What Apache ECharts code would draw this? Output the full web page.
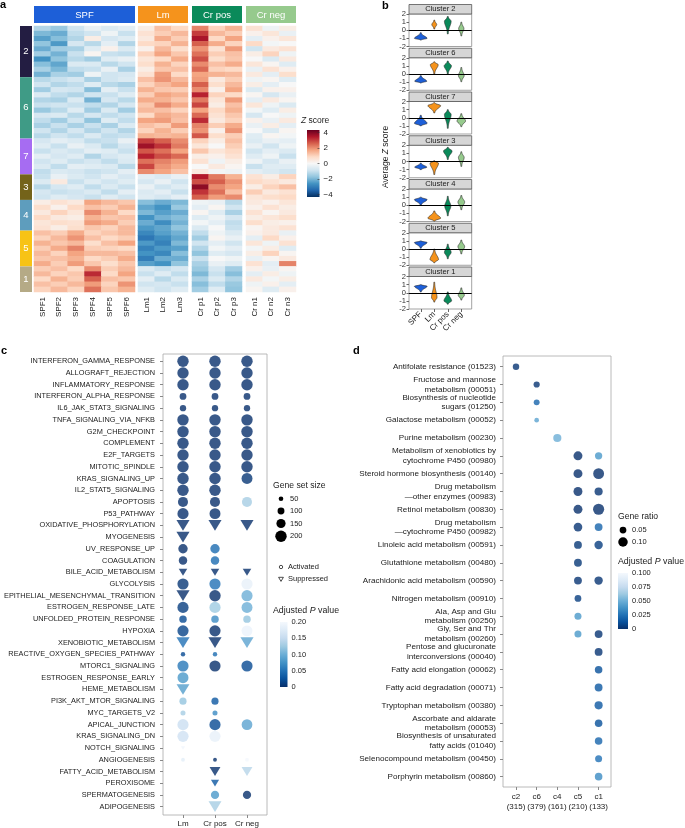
<!DOCTYPE html>
<html><head><meta charset="utf-8">
<script src="https://cdn.jsdelivr.net/npm/echarts@6/dist/echarts.min.js"></script>
<style>html,body{margin:0;padding:0;background:#fff}#chart{width:685px;height:828px}</style>
</head><body><div id="chart"></div>
<script>
// ================= DATA =================
// ---- panel a: heatmap (Z scores), columns SPF1-6, Lm1-3, Cr p1-3, Cr n1-3
const samplesSPF = ['SPF1','SPF2','SPF3','SPF4','SPF5','SPF6'];
const samplesLm = ['Lm1','Lm2','Lm3'];
const samplesCrPos = ['Cr p1','Cr p2','Cr p3'];
const samplesCrNeg = ['Cr n1','Cr n2','Cr n3'];
const heatGroupNames = ['SPF','Lm','Cr pos','Cr neg'];
const clusterIds = ['2','6','7','3','4','5','1'];

const zCluster2 = [
[-1.2,-1.5,-0.8,-0.3,-0.6,-0.4, 0.3,1.2,0.8, 2.0,0.9,1.4, 0.6,-0.2,0.3],
[-1.8,-2.0,-1.0,-0.8,-0.2,-0.9, 0.6,1.0,1.3, 2.8,1.3,1.0, 0.2,0.5,-0.3],
[-2.2,-1.7,-1.2,0.3,-0.7,-0.5, 0.4,1.5,1.0, 3.3,0.8,1.6, -0.4,0.2,0.5],
[-1.6,-2.3,-0.7,-1.1,-0.4,-1.2, 0.8,0.9,1.4, 2.4,1.5,0.9, 0.8,-0.1,0.0],
[-2.0,-1.4,-1.3,-0.5,0.2,-0.6, 0.2,1.3,0.7, 1.8,0.6,1.7, -0.8,0.4,0.6],
[-1.4,-1.9,-0.9,0.1,-0.9,-1.0, 0.9,1.6,1.1, 2.2,1.0,1.2, 0.3,0.9,-0.2],
[-2.4,-1.6,-1.1,-1.4,-0.5,-0.3, 0.5,0.8,1.5, 2.6,0.7,1.1, 0.0,-0.6,0.4],
[-1.7,-2.1,-0.6,-0.6,-1.1,-0.8, 0.7,1.4,0.9, 1.9,1.2,1.5, 0.5,0.1,-0.5],
[-1.3,-1.8,-1.0,-0.9,-0.3,-1.3, 0.3,1.1,1.2, 2.3,0.9,0.8, -0.3,0.6,0.2],
[-1.9,-1.3,-1.4,-0.2,-0.8,-0.7, 0.6,1.7,0.8, 1.6,1.4,1.3, 0.4,-0.4,0.7]
];
const zCluster6 = [
[-1.1,-0.9,-0.7,-1.3,-0.8,-0.6, 1.2,1.8,1.3, 1.7,0.4,1.0, -0.2,0.1,-0.5],
[-0.8,-1.2,-1.0,-0.5,-1.1,-1.3, 0.9,1.3,1.6, 2.4,0.7,1.3, 0.3,-0.4,0.0],
[-1.4,-0.7,-0.8,-1.7,-0.4,-0.9, 1.4,1.1,1.0, 1.9,0.2,1.6, -0.6,0.2,0.2],
[-0.6,-1.0,-1.2,-0.8,-0.9,-0.5, 1.0,1.6,1.4, 3.1,0.9,0.8, 0.1,-0.7,-0.3],
[-1.2,-1.3,-0.6,-1.9,-0.7,-1.1, 1.5,1.4,1.1, 2.1,0.5,1.7, -0.4,0.4,0.1],
[-0.9,-0.8,-0.9,-1.0,-1.2,-0.7, 1.1,1.9,1.5, 2.7,0.3,1.2, 0.5,-0.2,-0.6],
[-1.5,-1.1,-0.5,-1.4,-0.6,-1.4, 1.3,1.2,0.9, 1.6,0.8,1.4, -0.1,-0.5,0.3],
[-0.7,-0.6,-1.1,-0.7,-1.0,-0.8, 0.8,1.5,1.3, 2.3,0.6,1.1, -0.7,0.0,-0.2],
[-1.0,-1.4,-0.8,-1.6,-0.5,-1.0, 1.6,1.7,1.2, 3.0,0.4,0.9, 0.2,-0.3,0.4],
[-1.3,-0.9,-1.3,-0.9,-1.3,-0.6, 1.2,1.0,1.7, 2.0,1.0,1.5, -0.3,0.3,-0.4],
[-0.8,-1.2,-0.7,-1.2,-0.8,-1.2, 0.9,1.4,1.0, 1.8,0.2,1.8, 0.0,-0.6,0.1],
[-1.1,-0.8,-1.0,-0.6,-1.0,-0.9, 1.4,1.3,1.4, 2.5,0.7,1.0, -0.5,0.1,-0.1]
];
const zCluster7 = [
[-0.7,-0.4,-0.6,-1.0,-0.9,-0.3, 2.8,2.4,1.9, 0.9,0.3,1.2, -0.6,-0.3,-0.4],
[-0.5,-0.9,-0.3,-0.6,-1.1,-0.7, 3.4,2.9,2.1, 0.5,0.0,1.0, -0.3,-0.8,-0.2],
[-0.9,-0.6,-0.8,-0.4,-0.5,-0.9, 2.5,2.2,1.6, 1.1,0.5,0.8, -0.8,-0.4,-0.6],
[-0.4,-0.7,-0.5,-1.2,-0.7,-0.5, 3.1,2.6,2.3, 0.3,0.2,0.6, -0.5,-0.2,-0.9],
[-0.8,-0.5,-0.9,-0.7,-1.0,-0.6, 2.2,2.0,1.7, 0.6,-0.2,0.3, -0.2,-0.7,-0.3],
[-0.6,-1.0,-0.4,-0.5,-0.6,-1.1, 2.7,1.8,1.5, 0.0,0.4,0.1, -0.9,-0.5,-0.5],
[-1.0,-0.6,-0.7,-0.9,-0.8,-0.4, 1.9,1.6,1.2, 0.4,-0.1,-0.2, -0.4,-0.6,-0.8]
];
const zCluster3 = [
[-0.9,-0.3,-0.6,-0.8,-0.4,-0.7, -0.4,-0.6,-0.3, 3.2,2.1,1.4, 0.6,0.3,0.9],
[-0.6,0.4,-0.9,-0.5,-0.8,-0.5, -0.7,-0.3,-0.8, 2.6,2.4,1.8, 0.8,0.6,0.4],
[-1.1,-0.7,-0.5,-1.0,-0.6,-0.9, -0.3,-0.8,-0.5, 3.6,1.9,1.6, 0.3,0.9,1.2],
[-0.7,-0.9,-0.8,-0.6,-1.0,-0.4, -0.6,-0.4,-0.9, 2.9,2.2,1.2, 1.0,0.4,0.6],
[-0.8,-0.5,-0.7,-0.9,-0.5,-0.8, -0.5,-0.7,-0.4, 2.4,1.7,1.9, 0.5,0.7,0.8]
];
const zCluster4 = [
[0.3,0.6,0.4,1.6,1.3,1.1, -1.7,-2.0,-1.8, -0.2,-0.3,-1.1, 0.4,0.2,0.5],
[0.7,0.2,0.8,1.2,1.0,1.4, -2.1,-2.4,-1.5, -0.4,0.1,-0.8, 0.2,0.6,0.3],
[0.4,0.9,0.5,1.9,1.4,0.8, -1.8,-2.2,-2.0, 0.1,-0.5,-1.3, 0.6,0.1,0.4],
[0.8,0.4,0.3,1.4,1.1,1.2, -2.4,-1.9,-1.7, -0.5,-0.2,-0.7, 0.3,0.5,0.7],
[0.5,0.7,0.6,1.7,1.5,1.0, -2.0,-2.5,-1.9, -0.1,-0.4,-1.0, 0.7,0.3,0.2],
[0.6,0.3,0.7,1.1,0.9,1.3, -2.3,-2.1,-1.6, -0.6,0.0,-0.9, 0.1,0.4,0.6]
];
const zCluster5 = [
[1.2,1.0,1.5,0.9,1.1,1.3, -2.6,-2.2,-1.9, -1.0,-0.2,-0.6, 0.2,0.4,-0.3],
[0.9,1.3,1.8,1.2,0.8,1.0, -2.9,-2.5,-2.1, -1.4,0.1,-0.3, -0.4,0.8,0.2],
[1.4,1.1,1.3,0.7,1.2,1.6, -2.3,-2.7,-1.8, -0.8,-0.4,-0.8, 0.5,-0.2,0.6],
[1.0,1.5,2.0,1.0,0.9,0.8, -2.7,-2.3,-2.2, -1.2,-0.1,-0.4, -0.1,0.3,-0.5],
[1.3,0.9,1.6,1.3,1.3,1.2, -2.4,-2.6,-1.7, -1.6,-0.5,-0.7, 0.3,0.9,0.1],
[1.1,1.2,1.4,0.8,1.0,1.5, -2.8,-2.0,-2.0, -0.9,0.0,-0.2, -0.3,0.1,0.4],
[1.5,1.0,1.7,1.1,0.7,1.1, -2.2,-2.4,-1.6, -1.3,-0.3,-0.5, 0.6,-0.4,2.0]
];
const zCluster1 = [
[1.0,1.2,0.8,1.9,1.0,1.3, -0.6,-0.9,-0.7, -1.5,-0.7,-1.4, 0.2,-0.3,0.1],
[1.3,0.9,1.1,3.0,0.8,1.6, -0.9,-0.5,-1.0, -1.8,-0.9,-1.7, -0.4,0.3,-0.2],
[0.8,1.4,1.0,2.4,1.2,1.1, -0.4,-1.1,-0.6, -1.3,-0.6,-1.2, 0.4,-0.1,0.3],
[1.2,1.0,1.3,1.7,0.9,1.8, -0.8,-0.7,-0.9, -1.7,-1.0,-1.5, -0.2,0.2,-0.4],
[0.9,1.3,0.9,2.2,1.1,1.4, -0.5,-0.8,-0.5, -1.4,-0.5,-1.6, 0.1,-0.5,0.2]
];
const zTicks = [-4,-2,0,2,4];

// ---- panel b: violins per cluster: [min, max, mode, relative width] for SPF, Lm, Cr pos, Cr neg
const violinGroups = ['SPF','Lm','Cr pos','Cr neg'];
const violinClusters = ['Cluster 2','Cluster 6','Cluster 7','Cluster 3','Cluster 4','Cluster 5','Cluster 1'];
const violinC2 = [[-1.2,-0.3,-1.0,1.0],[0.15,1.25,0.7,0.35],[-0.45,1.7,1.1,0.5],[-0.7,1.0,0.2,0.38]];
const violinC6 = [[-1.1,-0.2,-0.9,0.95],[0.0,1.5,1.15,0.6],[0.0,1.6,1.0,0.55],[-0.95,0.8,-0.2,0.42]];
const violinC7 = [[-1.0,0.3,-0.7,1.0],[0.6,1.85,1.5,1.0],[-1.3,1.0,0.4,0.5],[-1.1,0.5,-0.4,0.65]];
const violinC3 = [[-1.0,-0.2,-0.7,0.95],[-1.6,0.1,-0.2,0.65],[0.25,1.75,1.3,0.66],[-0.6,1.2,0.5,0.42]];
const violinC4 = [[0.0,1.0,0.7,1.0],[-1.95,-0.7,-1.6,1.0],[-1.3,1.1,-0.1,0.45],[-0.55,1.2,0.4,0.5]];
const violinC5 = [[0.1,1.0,0.8,1.0],[-1.7,0.0,-1.3,0.65],[-1.2,0.6,-0.4,0.5],[-0.6,1.1,0.3,0.5]];
const violinC1 = [[0.1,1.0,0.8,1.0],[-1.15,1.3,-0.6,0.4],[-1.4,0.1,-1.0,0.58],[-0.9,0.6,-0.3,0.45]];

// ---- panel c: hallmark GSEA
const cConditions = ['Lm','Cr pos','Cr neg'];
const cPathways = ['INTERFERON_GAMMA_RESPONSE','ALLOGRAFT_REJECTION','INFLAMMATORY_RESPONSE','INTERFERON_ALPHA_RESPONSE',
'IL6_JAK_STAT3_SIGNALING','TNFA_SIGNALING_VIA_NFKB','G2M_CHECKPOINT','COMPLEMENT','E2F_TARGETS','MITOTIC_SPINDLE',
'KRAS_SIGNALING_UP','IL2_STAT5_SIGNALING','APOPTOSIS','P53_PATHWAY','OXIDATIVE_PHOSPHORYLATION','MYOGENESIS',
'UV_RESPONSE_UP','COAGULATION','BILE_ACID_METABOLISM','GLYCOLYSIS','EPITHELIAL_MESENCHYMAL_TRANSITION',
'ESTROGEN_RESPONSE_LATE','UNFOLDED_PROTEIN_RESPONSE','HYPOXIA','XENOBIOTIC_METABOLISM','REACTIVE_OXYGEN_SPECIES_PATHWAY',
'MTORC1_SIGNALING','ESTROGEN_RESPONSE_EARLY','HEME_METABOLISM','PI3K_AKT_MTOR_SIGNALING','MYC_TARGETS_V2',
'APICAL_JUNCTION','KRAS_SIGNALING_DN','NOTCH_SIGNALING','ANGIOGENESIS','FATTY_ACID_METABOLISM','PEROXISOME',
'SPERMATOGENESIS','ADIPOGENESIS'];
const cGeneSetSize = [
[200,200,200],[200,200,200],[200,200,200],[97,97,97],[87,87,87],[200,200,200],[200,200,200],[200,200,200],
[200,200,200],[200,200,200],[200,200,190],[200,200,null],[170,170,170],[195,190,null],[200,200,200],[200,null,null],
[155,155,null],[135,135,null],[112,112,112],[195,195,195],[200,200,195],[195,195,190],[112,112,112],[195,195,190],
[200,200,200],[45,45,null],[195,195,195],[190,null,null],[195,null,null],[105,105,null],[58,58,null],
[195,195,185],[195,195,null],[30,null,null],[32,32,32],[null,158,158],[null,104,null],[null,130,130],[null,195,null]];
const cPadj = [
[0,0,0],[0,0,0],[0,0,0],[0,0,0],[0,0,0],[0,0,0],[0,0,0],[0,0,0],
[0,0,0],[0,0,0],[0,0,0.005],[0,0,null],[0,0,0.13],[0,0,null],[0,0,0],[0,null,null],
[0,0.045,null],[0,0.045,null],[0,0,0],[0.005,0.05,0.185],[0,0,0.1],[0.01,0.125,0.1],[0.02,0.07,0.12],[0.015,0,0.19],
[0.05,0,0.09],[0.02,0.045,null],[0.055,0,0.02],[0.08,null,null],[0.085,null,null],[0.12,0.03,null],[0.13,0.07,null],
[0.155,0.02,0.09],[0.16,0.185,null],[0.195,null,null],[0.18,0,0.2],[null,0,0.14],[null,0.03,null],[null,0.08,0],[null,0.13,null]];
// A = activated, S = suppressed
const cDirection = ['AAA','AAA','AAA','AAA','AAA','AAA','AAA','AAA','AAA','AAA','AAA','AA-','AAA','AA-','SSS','S--',
'AA-','AA-','SSS','AAA','SAA','AAA','AAA','AAA','SSS','AA-','AAA','A--','S--','AA-','AA-','AAA','AA-','S--','AAA',
'-SS','-S-','-AA','-S-'];
const cSizeLegend = [50,100,150,200];
const cPTicks = [0,0.05,0.1,0.15,0.2];

// ---- panel d: KEGG enrichment per cluster
const dClusters = ['c2','c6','c4','c5','c1'];
const dClusterGenes = [315,379,161,210,133];
const dPathways = ['Antifolate resistance (01523)','Fructose and mannose\nmetabolism (00051)',
'Biosynthesis of nucleotide\nsugars (01250)','Galactose metabolism (00052)','Purine metabolism (00230)',
'Metabolism of xenobiotics by\ncytochrome P450 (00980)','Steroid hormone biosynthesis (00140)',
'Drug metabolism\n\u2014other enzymes (00983)','Retinol metabolism (00830)','Drug metabolism\n\u2014cytochrome P450 (00982)',
'Linoleic acid metabolism (00591)','Glutathione metabolism (00480)','Arachidonic acid metabolism (00590)',
'Nitrogen metabolism (00910)','Ala, Asp and Glu\nmetabolism (00250)','Gly, Ser and Thr\nmetabolism (00260)',
'Pentose and glucuronate\ninterconversions (00040)','Fatty acid elongation (00062)','Fatty acid degradation (00071)',
'Tryptophan metabolism (00380)','Ascorbate and aldarate\nmetabolism (00053)','Biosynthesis of unsaturated\nfatty acids (01040)',
'Selenocompound metabolism (00450)','Porphyrin metabolism (00860)'];
const dGeneRatio = [
[0.045,null,null,null,null],[null,0.04,null,null,null],[null,0.035,null,null,null],[null,0.012,null,null,null],
[null,null,0.075,null,null],[null,null,null,0.09,0.06],[null,null,null,0.09,0.125],[null,null,null,0.09,0.075],
[null,null,null,0.09,0.13],[null,null,null,0.085,0.07],[null,null,null,0.07,0.08],[null,null,null,0.07,null],
[null,null,null,0.07,0.08],[null,null,null,0.05,null],[null,null,null,0.055,null],[null,null,null,0.055,0.07],
[null,null,null,null,0.07],[null,null,null,null,0.065],[null,null,null,null,0.07],[null,null,null,null,0.075],
[null,null,null,null,0.065],[null,null,null,null,0.065],[null,null,null,null,0.055],[null,null,null,null,0.065]];
const dPadj = [
[0.002,null,null,null,null],[null,0.002,null,null,null],[null,0.02,null,null,null],[null,0.045,null,null,null],
[null,null,0.05,null,null],[null,null,null,0,0.04],[null,null,null,0,0],[null,null,null,0,0.002],
[null,null,null,0,0],[null,null,null,0.002,0.02],[null,null,null,0.003,0.005],[null,null,null,0.003,null],
[null,null,null,0.002,0.002],[null,null,null,0.005,null],[null,null,null,0.04,null],[null,null,null,0.04,0.002],
[null,null,null,null,0.002],[null,null,null,null,0.012],[null,null,null,null,0.015],[null,null,null,null,0.015],
[null,null,null,null,0.012],[null,null,null,null,0.02],[null,null,null,null,0.025],[null,null,null,null,0.035]];
const dRatioLegend = [0.05,0.10];
const dPTicks = [0,0.025,0.05,0.075,0.1];

// ================= STYLE / LAYOUT =================
const FONT = '"Liberation Sans", Arial, Helvetica, sans-serif';
const TXT = '#1a1a1a';
const groupColors = ['#1d5fd8','#f5931c','#0a8a5a','#96ca8d'];
const clusterColors = ['#231d42','#3f9b86','#a66cf2','#74631a','#5e9dbd','#f7c316','#b5aa86'];
const RdBu = ['#053061','#2166ac','#4393c3','#92c5de','#d1e5f0','#f7f7f7','#fddbc7','#f4a582','#d6604d','#b2182b','#67001f'];
const Blues = ['#08306b','#08519c','#2171b5','#4292c6','#6baed6','#9ecae1','#c6dbef','#deebf7','#f4f8fd'];
const sizeC = s => 2.4 + s * 0.045;
const sizeD = r => 4 + r * 55;
function vGrad(colorsTopToBottom){
  return {type:'linear',x:0,y:0,x2:0,y2:1,colorStops:colorsTopToBottom.map((c,i,a)=>({offset:i/(a.length-1),color:c}))};
}
const noLine = {show:false, onZero:false};

const grid=[], xAxis=[], yAxis=[], series=[], graphic=[], visualMap=[];
function addGrid(g, xa, ya){ g.outerBoundsMode='none'; g.containLabel=false;
  grid.push(g); const gi=grid.length-1; xa.gridIndex=gi; ya.gridIndex=gi; xAxis.push(xa); yAxis.push(ya); return gi; }
function txt(x,y,text,opt){ opt=opt||{};
  graphic.push({type:'text', x, y, rotation: opt.rotation||0, style:Object.assign({text, fill: opt.fill||TXT,
    font: opt.font || `8px ${FONT}`, align: opt.align||'left', textAlign: opt.align||'left',
    verticalAlign: opt.va||'middle', textVerticalAlign: opt.va||'middle'}, opt.extra||{})});
}

// ---------- panel a ----------
const clusterRows = [zCluster2, zCluster6, zCluster7, zCluster3, zCluster4, zCluster5, zCluster1];
const allRows = [].concat(...clusterRows);
const nRows = allRows.length;
const heatGroups = [samplesSPF, samplesLm, samplesCrPos, samplesCrNeg];
const heatX = [[34,101],[138,50],[192,50],[246,50]];
const heatTop = 26, heatH = 266;
let colOffset = 0; const heatSeriesIdx = [];
heatGroups.forEach((samples,g)=>{
  const gi = addGrid({left:heatX[g][0], width:heatX[g][1], top:heatTop, height:heatH},
    {type:'category', data:samples, axisLine:noLine, axisTick:{show:false},
     axisLabel:{rotate:90, fontSize:8, margin:5, color:TXT, fontFamily:FONT}},
    {type:'category', data:allRows.map((r,i)=>i), inverse:true, show:false});
  const data=[];
  allRows.forEach((row,r)=>samples.forEach((s,c)=>data.push([c,r,row[colOffset+c]])));
  series.push({type:'heatmap', xAxisIndex:gi, yAxisIndex:gi, data, progressive:0});
  heatSeriesIdx.push(series.length-1);
  colOffset += samples.length;
  graphic.push({type:'rect', shape:{x:heatX[g][0], y:6, width:heatX[g][1], height:17}, style:{fill:groupColors[g]}});
  txt(heatX[g][0]+heatX[g][1]/2, 15, heatGroupNames[g], {fill:'#fff', align:'center', font:`9.5px ${FONT}`});
});
visualMap.push({type:'continuous', show:false, min:-4, max:4, dimension:2, seriesIndex:heatSeriesIdx, inRange:{color:RdBu}});

// cluster side bar
{
  const gi = addGrid({left:20, width:12, top:heatTop, height:heatH},
    {type:'category', data:['k'], show:false},
    {type:'value', min:0, max:nRows, inverse:true, show:false});
  clusterRows.forEach((rows,k)=>{
    series.push({type:'bar', name:'Cluster '+clusterIds[k], stack:'cl', xAxisIndex:gi, yAxisIndex:gi, barWidth:'100%',
      data:[rows.length], itemStyle:{color:clusterColors[k]},
      label:{show:true, position:'inside', formatter:()=>clusterIds[k], color:'#fff', fontSize:9.5, fontFamily:FONT}});
  });
}
// Z colorbar
addGrid({left:307, width:12.5, top:130, height:67, show:true, borderWidth:0, backgroundColor:vGrad(RdBu.slice().reverse())},
  {type:'value', show:false, min:0, max:1},
  {type:'value', min:-4.3, max:4.3, position:'right', splitLine:{show:false}, axisLine:noLine,
   axisTick:{show:true, inside:true, length:2, customValues:zTicks, lineStyle:{color:'#333', width:0.6}},
   axisLabel:{customValues:zTicks, formatter:v=>String(v).replace('-','\u2212'), fontSize:8, margin:4, color:TXT, fontFamily:FONT}});
txt(301, 121, '{i|Z} score', {font:`8.5px ${FONT}`, extra:{rich:{i:{fontStyle:'italic', fontSize:8.5, fontFamily:FONT, fill:TXT}}}});

// ---------- panel b ----------
const violinStats = [violinC2, violinC6, violinC7, violinC3, violinC4, violinC5, violinC1];
const facetPitch = 43.75;
const facetLeft = 409, facetW = 62.7;
violinStats.forEach((stats,i)=>{
  const top = 14 + facetPitch*i;
  const last = i === violinStats.length-1;
  const gi = addGrid({left:facetLeft, width:facetW, top, height:32.5, show:true, borderColor:'#8a8a8a', borderWidth:0.8, backgroundColor:'#fff'},
    {type:'value', min:-0.87, max:3.77, splitLine:{show:false}, axisLine:noLine,
     axisTick:{show:last, customValues:[0,1,2,3], length:3, lineStyle:{color:'#666'}},
     axisLabel:{show:last, customValues:[0,1,2,3], formatter:v=>violinGroups[v], rotate:45, fontSize:8, margin:4, color:TXT, fontFamily:FONT}},
    {type:'value', min:-2, max:2, interval:1, splitLine:{show:false}, axisLine:noLine,
     axisTick:{show:true, length:2.5, lineStyle:{color:'#666'}},
     axisLabel:{fontSize:7.5, margin:3, color:'#333', fontFamily:FONT}});
  series.push({type:'custom', xAxisIndex:gi, yAxisIndex:gi,
    data: stats.map((s,k)=>[k, s[0], s[1], s[2], s[3]]),
    encode:{x:0, y:[1,2]},
    renderItem:(params, api)=>{
      const x=api.value(0), lo=api.value(1), hi=api.value(2), mode=api.value(3), rel=api.value(4);
      const w = rel*6.0, N=30, right=[], left=[];
      const sLo=Math.max((mode-lo)/1.9,0.04), sHi=Math.max((hi-mode)/1.9,0.04);
      for(let k=0;k<=N;k++){
        const y=lo+(hi-lo)*k/N; const s=y<mode?sLo:sHi;
        const f=Math.exp(-Math.pow((y-mode)/s,2));
        const p=api.coord([x,y]);
        right.push([p[0]+w*f+0.35,p[1]]); left.unshift([p[0]-w*f-0.35,p[1]]);
      }
      return {type:'polygon', shape:{points:right.concat(left)}, style:{fill:groupColors[x], stroke:'#2a2a2a', lineWidth:0.6}};
    },
    markLine:{silent:true, symbol:['none','none'], label:{show:false}, lineStyle:{color:'#000', width:1, type:'solid'}, data:[{yAxis:0}]},
    z:2});
  graphic.push({type:'rect', shape:{x:facetLeft, y:top-9.5, width:facetW, height:9.5}, style:{fill:'#d6d6d6', stroke:'#555', lineWidth:0.8}});
  txt(facetLeft+facetW/2, top-4.6, violinClusters[i], {align:'center', font:`7.6px ${FONT}`});
});
txt(386, 157, 'Average {i|Z} score', {align:'center', rotation:Math.PI/2, font:`8.5px ${FONT}`,
  extra:{rich:{i:{fontStyle:'italic', fontSize:8.5, fontFamily:FONT, fill:TXT}}}});

// ---------- panel c ----------
{
  const gi = addGrid({left:163, width:104, top:354, height:461, show:true, borderColor:'#a8a8a8', borderWidth:0.8},
    {type:'value', min:-0.625, max:2.625, splitLine:{show:false}, axisLine:noLine,
     axisTick:{customValues:[0,1,2], length:3, lineStyle:{color:'#888'}},
     axisLabel:{customValues:[0,1,2], formatter:v=>cConditions[v], fontSize:8, margin:5, color:TXT, fontFamily:FONT}},
    {type:'value', inverse:true, min:-0.62, max:38.71, splitLine:{show:false}, axisLine:noLine,
     axisTick:{customValues:cPathways.map((p,i)=>i), length:3, lineStyle:{color:'#888'}},
     axisLabel:{customValues:cPathways.map((p,i)=>i), formatter:v=>cPathways[v], fontSize:7.35, margin:8, color:TXT, fontFamily:FONT}});
  const act=[], sup=[];
  cPathways.forEach((p,r)=>cConditions.forEach((c,k)=>{
    const s=cGeneSetSize[r][k]; if(s==null) return;
    const item=[k, r, s, cPadj[r][k]];
    (cDirection[r][k]==='S'?sup:act).push(item);
  }));
  series.push({type:'scatter', name:'Activated', xAxisIndex:gi, yAxisIndex:gi, data:act, symbol:'circle',
    symbolSize:v=>sizeC(v[2])});
  const ia = series.length-1;
  series.push({type:'scatter', name:'Suppressed', xAxisIndex:gi, yAxisIndex:gi, data:sup, symbol:'triangle', symbolRotate:180,
    symbolSize:v=>[sizeC(v[2])*1.15, sizeC(v[2])*0.95]});
  visualMap.push({type:'continuous', show:false, min:0, max:0.2, dimension:3, seriesIndex:[ia, ia+1], inRange:{color:Blues}});
}
addGrid({left:280, width:7.5, top:622, height:65, show:true, borderWidth:0, backgroundColor:vGrad(Blues.slice().reverse())},
  {type:'value', show:false, min:0, max:1},
  {type:'value', min:0, max:0.2, interval:0.05, position:'right', splitLine:{show:false}, axisLine:noLine,
   axisTick:{show:false}, axisLabel:{formatter:v=>v===0?'0':v.toFixed(2), fontSize:7.5, margin:4, color:TXT, fontFamily:FONT}});
txt(273, 486, 'Gene set size', {font:`8.6px ${FONT}`});
const cLegY = [498.7, 511, 523.5, 536.3];
cSizeLegend.forEach((s,i)=>{
  graphic.push({type:'circle', shape:{cx:281, cy:cLegY[i], r:sizeC(s)/2}, style:{fill:'#000'}});
  txt(290, cLegY[i], String(s), {font:`7.5px ${FONT}`});
});
graphic.push({type:'circle', shape:{cx:281, cy:567, r:1.7}, style:{fill:'none', stroke:'#000', lineWidth:0.7}});
txt(288, 567, 'Activated', {font:`7.5px ${FONT}`});
graphic.push({type:'polygon', shape:{points:[[278.6,577.3],[283.4,577.3],[281,581.4]]}, style:{fill:'none', stroke:'#000', lineWidth:0.7}});
txt(288, 579, 'Suppressed', {font:`7.5px ${FONT}`});
txt(273, 611, 'Adjusted {i|P} value', {font:`8.8px ${FONT}`, extra:{rich:{i:{fontStyle:'italic', fontSize:8.8, fontFamily:FONT, fill:TXT}}}});

// ---------- panel d ----------
{
  const gi = addGrid({left:503, width:108, top:356, height:431, show:true, borderColor:'#a8a8a8', borderWidth:0.8},
    {type:'value', min:-0.63, max:4.6, splitLine:{show:false}, axisLine:noLine,
     axisTick:{customValues:[0,1,2,3,4], length:3, lineStyle:{color:'#888'}},
     axisLabel:{customValues:[0,1,2,3,4], formatter:v=>dClusters[v]+'\n('+dClusterGenes[v]+')', fontSize:8, lineHeight:10, margin:5, color:TXT, fontFamily:FONT}},
    {type:'value', inverse:true, min:-0.6, max:23.58, splitLine:{show:false}, axisLine:noLine,
     axisTick:{customValues:dPathways.map((p,i)=>i), length:3, lineStyle:{color:'#888'}},
     axisLabel:{customValues:dPathways.map((p,i)=>i), formatter:v=>dPathways[v], fontSize:8.1, lineHeight:9.7, margin:7, color:TXT, fontFamily:FONT}});
  const pts=[];
  dPathways.forEach((p,r)=>dClusters.forEach((c,k)=>{
    const g=dGeneRatio[r][k]; if(g==null) return;
    pts.push([k, r, g, dPadj[r][k]]);
  }));
  series.push({type:'scatter', xAxisIndex:gi, yAxisIndex:gi, data:pts, symbol:'circle', symbolSize:v=>sizeD(v[2])});
  visualMap.push({type:'continuous', show:false, min:0, max:0.1, dimension:3, seriesIndex:[series.length-1], inRange:{color:Blues}});
}
addGrid({left:618, width:10, top:573, height:56, show:true, borderWidth:0, backgroundColor:vGrad(Blues.slice().reverse())},
  {type:'value', show:false, min:0, max:1},
  {type:'value', min:0, max:0.1, interval:0.025, position:'right', splitLine:{show:false}, axisLine:noLine,
   axisTick:{show:false}, axisLabel:{formatter:v=>v===0?'0':v.toFixed(3), fontSize:7.5, margin:4, color:TXT, fontFamily:FONT}});
txt(618, 517, 'Gene ratio', {font:`8.6px ${FONT}`});
const dLegY = [530, 542];
dRatioLegend.forEach((g,i)=>{
  graphic.push({type:'circle', shape:{cx:623, cy:dLegY[i], r:sizeD(g)/2}, style:{fill:'#000'}});
  txt(632, dLegY[i], g.toFixed(2), {font:`7.5px ${FONT}`});
});
txt(618, 562, 'Adjusted {i|P} value', {font:`8.8px ${FONT}`, extra:{rich:{i:{fontStyle:'italic', fontSize:8.8, fontFamily:FONT, fill:TXT}}}});

// panel letters
txt(0, 5, 'a', {font:`bold 11px ${FONT}`, fill:'#000'});
txt(382, 6, 'b', {font:`bold 11px ${FONT}`, fill:'#000'});
txt(1, 351, 'c', {font:`bold 11px ${FONT}`, fill:'#000'});
txt(353, 351, 'd', {font:`bold 11px ${FONT}`, fill:'#000'});

const chart = echarts.init(document.getElementById('chart'), null, {renderer:'canvas'});
chart.setOption({animation:false, backgroundColor:'#fff', textStyle:{fontFamily:FONT},
  grid, xAxis, yAxis, series, visualMap, graphic:{elements:graphic}});
</script></body></html>
